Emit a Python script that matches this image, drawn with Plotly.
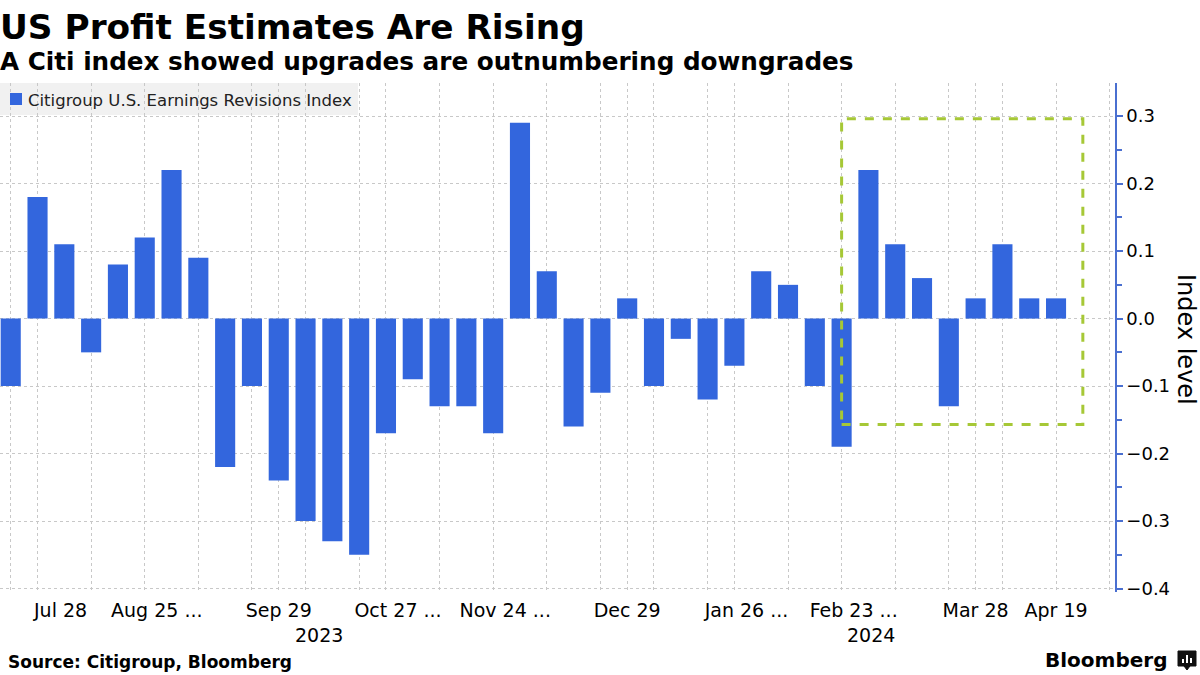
import plotly.graph_objects as go

# ---- data ----
dates = [
    "2023-07-21", "2023-07-28", "2023-08-04", "2023-08-11", "2023-08-18", "2023-08-25",
    "2023-09-01", "2023-09-08", "2023-09-15", "2023-09-22", "2023-09-29", "2023-10-06",
    "2023-10-13", "2023-10-20", "2023-10-27", "2023-11-03", "2023-11-10", "2023-11-17",
    "2023-11-24", "2023-12-01", "2023-12-08", "2023-12-15", "2023-12-22", "2023-12-29",
    "2024-01-05", "2024-01-12", "2024-01-19", "2024-01-26", "2024-02-02", "2024-02-09",
    "2024-02-16", "2024-02-23", "2024-03-01", "2024-03-08", "2024-03-15", "2024-03-22",
    "2024-03-28", "2024-04-05", "2024-04-12", "2024-04-19",
]
revisions = [
    -0.10, 0.18, 0.11, -0.05, 0.08, 0.12, 0.22, 0.09, -0.22, -0.10,
    -0.24, -0.30, -0.33, -0.35, -0.17, -0.09, -0.13, -0.13, -0.17, 0.29,
    0.07, -0.16, -0.11, 0.03, -0.10, -0.03, -0.12, -0.07, 0.07, 0.05,
    -0.10, -0.19, 0.22, 0.11, 0.06, -0.13, 0.03, 0.11, 0.03, 0.03,
]
tick_dates = ["2023-07-28", "2023-08-25", "2023-09-29", "2023-10-27", "2023-11-24",
              "2023-12-29", "2024-01-26", "2024-02-23", "2024-03-28", "2024-04-19"]
tick_labels = ["Jul 28", "Aug 25 ...", "Sep 29", "Oct 27 ...", "Nov 24 ...",
               "Dec 29", "Jan 26 ...", "Feb 23 ...", "Mar 28", "Apr 19"]
year_labels = ["2023", "2024"]
highlight_start = "2024-02-23"
highlight_low, highlight_high = -0.157, 0.296
series_name = "Citigroup U.S. Earnings Revisions Index"

# ---- layout helpers ----
x_idx = list(range(len(dates)))
label_shift = {"Jul 28": 0.86}
tick_pos = [dates.index(d) + (0.45 if "..." in lab else label_shift.get(lab, 0.0))
            for d, lab in zip(tick_dates, tick_labels)]
grid_pos = [0, 1, 3, 5, 7, 9, 10, 11, 13, 14, 16, 18, 20, 22, 23, 24, 26, 27,
            29, 31, 33, 35, 36, 37, 39, 41]
year_pos = [11.5, 32.1]

BLUE = "#3366dd"
GRID = "#c8c8c8"
AXIS = "#4a6fd0"
FONT = "DejaVu Sans"

W, H = 1200, 675
ML, MR, MT, MB = 0, 85, 83, 83
PW, PH = W - ML - MR, H - MT - MB


def px_x(p):  # pixel x -> paper
    return (p - ML) / PW


def px_y(p):  # pixel y (from top) -> paper
    return (H - MB - p) / PH


fig = go.Figure()
fig.add_trace(go.Bar(
    x=x_idx, y=revisions, name=series_name, marker_color=BLUE,
    marker_line_width=0, width=0.75, showlegend=False,
))

hs = dates.index(highlight_start)
fig.add_shape(type="rect", xref="x", yref="y", x0=hs, x1=len(dates),
              y0=highlight_low, y1=highlight_high,
              line=dict(color="#a6c836", width=3, dash="dash"),
              fillcolor="rgba(0,0,0,0)", layer="above")

fig.update_layout(
    width=W, height=H,
    margin=dict(l=ML, r=MR, t=MT, b=MB),
    paper_bgcolor="white", plot_bgcolor="white",
    font=dict(family=FONT, color="black"),
    showlegend=False,
    xaxis=dict(
        range=[-0.4, 41.2], tickmode="array", tickvals=tick_pos, ticktext=tick_labels,
        showgrid=False, ticks="", tickfont=dict(size=19, family=FONT),
        ticklabelstandoff=5, zeroline=False, showline=False,
        minor=dict(tickmode="array", tickvals=grid_pos, showgrid=True,
                   gridcolor=GRID, griddash="dot", gridwidth=1, ticks=""),
    ),
    yaxis=dict(
        side="right", range=[-0.405, 0.349], tickmode="linear", tick0=0, dtick=0.1,
        tickformat=".1f", showgrid=True, gridcolor=GRID, griddash="dot",
        zeroline=False, showline=True, linecolor=AXIS, linewidth=1.5,
        ticks="outside", ticklen=6, tickwidth=2, tickcolor=AXIS,
        tickfont=dict(size=18, family=FONT),
        minor=dict(dtick=0.05, ticks="outside", ticklen=5, tickcolor=AXIS, showgrid=False),
    ),
)

# legend (custom, Bloomberg style)
fig.add_shape(type="rect", xref="paper", yref="paper", x0=px_x(0), x1=px_x(358),
              y0=px_y(115), y1=px_y(83), fillcolor="rgba(238,238,238,0.85)",
              line=dict(width=0), layer="below")
fig.add_shape(type="rect", xref="paper", yref="paper", x0=px_x(10), x1=px_x(22),
              y0=px_y(105), y1=px_y(93), fillcolor=BLUE, line=dict(width=0))
fig.add_annotation(text=series_name, xref="paper", yref="paper", x=px_x(26), y=px_y(100),
                   xanchor="left", yanchor="middle", showarrow=False,
                   font=dict(size=16.5, family=FONT, color="#222"))

# titles
fig.add_annotation(text="<b>US Profit Estimates Are Rising</b>", xref="paper", yref="paper",
                   x=px_x(-2), y=px_y(27), xanchor="left", yanchor="middle", showarrow=False,
                   font=dict(size=34.3, family=FONT, color="black"))
fig.add_annotation(text="<b>A Citi index showed upgrades are outnumbering downgrades</b>",
                   xref="paper", yref="paper", x=px_x(-2), y=px_y(61), xanchor="left",
                   yanchor="middle", showarrow=False,
                   font=dict(size=24.7, family=FONT, color="black"))
# y-axis title
fig.add_annotation(text="Index level", xref="paper", yref="paper", x=px_x(1186), y=px_y(339),
                   xanchor="center", yanchor="middle", showarrow=False, textangle=90,
                   font=dict(size=24, family=FONT, color="black"))
# year labels
for yl, yp in zip(year_labels, year_pos):
    fig.add_annotation(text=yl, x=yp, xref="x", y=px_y(635), yref="paper", yanchor="middle",
                       showarrow=False, font=dict(size=19, family=FONT))
# footer
fig.add_annotation(text="<b>Source: Citigroup, Bloomberg</b>", xref="paper", yref="paper",
                   x=px_x(6), y=px_y(662), xanchor="left", yanchor="middle", showarrow=False,
                   font=dict(size=17, family=FONT, color="black"))
fig.add_annotation(text="<b>Bloomberg</b>", xref="paper", yref="paper",
                   x=px_x(1169), y=px_y(660), xanchor="right", yanchor="middle",
                   showarrow=False, font=dict(size=20, family=FONT, color="black"))
# bloomberg icon
fig.add_shape(type="rect", xref="paper", yref="paper",
              x0=px_x(1178), x1=px_x(1196), y0=px_y(666), y1=px_y(651),
              fillcolor="#111", line=dict(color="#111", width=1))
fig.add_shape(type="path", xref="paper", yref="paper",
              path=f"M {px_x(1184)},{px_y(666)} L {px_x(1187)},{px_y(670)} L {px_x(1190)},{px_y(666)} Z",
              fillcolor="#111", line=dict(color="#111", width=1))
for bx, top in [(1183, 659), (1187, 655), (1191, 658)]:
    fig.add_shape(type="line", xref="paper", yref="paper",
                  x0=px_x(bx), x1=px_x(bx), y0=px_y(663), y1=px_y(top),
                  line=dict(color="white", width=2))

fig.write_html("out.html", config={"displayModeBar": False},
               post_script="document.body.style.margin='0';")
